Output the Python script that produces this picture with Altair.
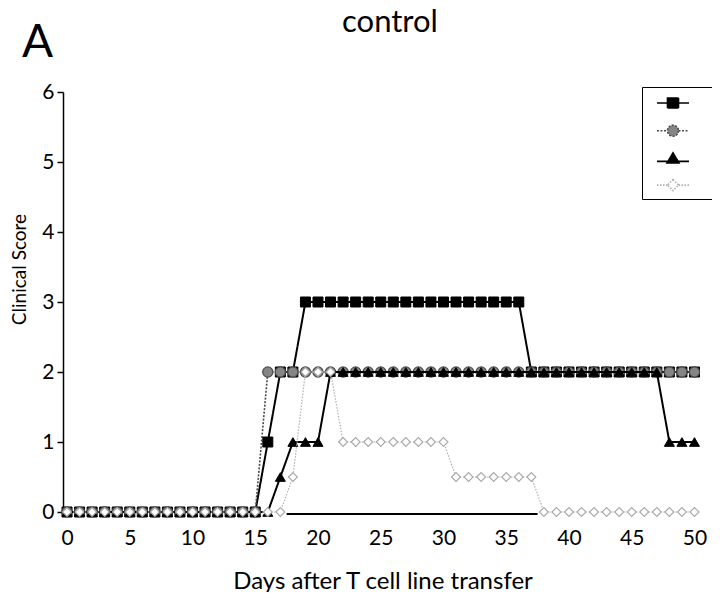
import altair as alt
import pandas as pd

# ---------------- data ----------------
days = list(range(0, 51))
series_names = ["animal 1", "animal 2", "animal 3", "animal 4"]

score_square = [0, 0, 0, 0, 0, 0, 0, 0, 0, 0, 0, 0, 0, 0, 0, 0,
                1, 2, 2,
                3, 3, 3, 3, 3, 3, 3, 3, 3, 3, 3, 3, 3, 3, 3, 3, 3, 3,
                2, 2, 2, 2, 2, 2, 2, 2, 2, 2, 2, 2, 2, 2]
score_circle = [0, 0, 0, 0, 0, 0, 0, 0, 0, 0, 0, 0, 0, 0, 0, 0,
                2, 2, 2, 2, 2, 2, 2, 2, 2, 2, 2, 2, 2, 2, 2, 2, 2, 2,
                2, 2, 2, 2, 2, 2, 2, 2, 2, 2, 2, 2, 2, 2, 2, 2, 2]
score_triangle = [0, 0, 0, 0, 0, 0, 0, 0, 0, 0, 0, 0, 0, 0, 0, 0, 0,
                  0.5, 1, 1, 1,
                  2, 2, 2, 2, 2, 2, 2, 2, 2, 2, 2, 2, 2, 2, 2, 2, 2, 2,
                  2, 2, 2, 2, 2, 2, 2, 2, 2,
                  1, 1, 1]
score_diamond = [0, 0, 0, 0, 0, 0, 0, 0, 0, 0, 0, 0, 0, 0, 0, 0, 0, 0,
                 0.5, 2, 2, 2,
                 1, 1, 1, 1, 1, 1, 1, 1, 1,
                 0.5, 0.5, 0.5, 0.5, 0.5, 0.5, 0.5,
                 0, 0, 0, 0, 0, 0, 0, 0, 0, 0, 0, 0, 0]

# stray baseline segment visible in the original figure
segment_start = [17.5]
segment_end = [37.5]
segment_level = [-0.03]

x_ticks = [0, 5, 10, 15, 20, 25, 30, 35, 40, 45, 50]
y_ticks = [0, 1, 2, 3, 4, 5, 6]

all_scores = [score_square, score_circle, score_triangle, score_diamond]
rows = []
for name, vals in zip(series_names, all_scores):
    for d, v in zip(days, vals):
        rows.append({"day": d, "score": v, "series": name})
df = pd.DataFrame(rows)
seg_df = pd.DataFrame({"day": segment_start, "day2": segment_end, "score": segment_level})

# ---------------- styles ----------------
FONT = "Lato"
styles = {
    "animal 1": dict(line="black", lw=2.0, dash=[1, 0], shape="square", fill="black",
                     stroke="black", size=100, sw=1),
    "animal 2": dict(line="#4a4a4a", lw=1.6, dash=[2, 1.5], shape="circle", fill="#858585",
                     stroke="#4a4a4a", size=105, sw=1.2),
    "animal 3": dict(line="black", lw=2.0, dash=[1, 0], shape="triangle-up", fill="black",
                     stroke="black", size=100, sw=1),
    "animal 4": dict(line="#b0b0b0", lw=1.2, dash=[1.5, 1.5], shape="diamond", fill="white",
                     stroke="#a8a8a8", size=80, sw=1.1),
}

legend_paths = [
    "M-1.6,0H1.6M-0.55,-0.5H0.55V0.5H-0.55Z",
    "M-1.6,0H-0.55M0.55,0H1.6M0.55,0A0.55,0.55 0 1,1 -0.55,0A0.55,0.55 0 1,1 0.55,0Z",
    "M-1.6,0.3H1.6M0,-0.55L0.6,0.45L-0.6,0.45Z",
    "M-1.6,0H-0.55M0.55,0H1.6M0,-0.55L0.55,0L0,0.55L-0.55,0Z",
]

x_scale = alt.Scale(domain=[-0.32, 50.6], nice=False, zero=False)
y_scale = alt.Scale(domain=[0, 6], nice=False, zero=False)

x_axis = alt.Axis(values=x_ticks, title="Days after T cell line transfer", domain=False,
                  ticks=False, grid=False, labelFontSize=21, labelPadding=15,
                  labelColor="black", labelFont=FONT, labelFlush=False,
                  titleFont=FONT, titleFontSize=24, titleFontWeight="normal",
                  titleColor="black", titleY=76, titleBaseline="alphabetic")
y_axis = alt.Axis(values=y_ticks, title="Clinical Score", domainColor="black",
                  domainWidth=1.5, tickColor="black", tickWidth=1.5, tickSize=6,
                  labelFontSize=21, labelPadding=3, labelColor="black", labelFont=FONT,
                  labelFlush=False, grid=False, titleFont=FONT, titleFontSize=19,
                  titleFontWeight="normal", titleColor="black", titleX=-44, titleY=177,
                  titleAlign="center", titleBaseline="middle", titleAngle=270)

base = alt.Chart(df).encode(
    x=alt.X("day:Q", scale=x_scale, axis=x_axis),
    y=alt.Y("score:Q", scale=y_scale, axis=y_axis),
)

layers = []
for name in series_names:
    s = styles[name]
    sub = base.transform_filter(alt.datum.series == name)
    layers.append(sub.mark_line(color=s["line"], strokeWidth=s["lw"], strokeDash=s["dash"]))
    layers.append(sub.mark_point(shape=s["shape"], filled=True, fill=s["fill"],
                                 stroke=s["stroke"], strokeWidth=s["sw"], size=s["size"],
                                 opacity=1))

segment = alt.Chart(seg_df).mark_rule(color="black", strokeWidth=2).encode(
    x=alt.X("day:Q", scale=x_scale, axis=x_axis), x2="day2:Q",
    y=alt.Y("score:Q", scale=y_scale, axis=y_axis))

leg_kwargs = dict(orient="none", legendX=579, legendY=-5, title=None, labelExpr="''",
                  padding=5, symbolOffset=15, labelOffset=25, rowPadding=7.7,
                  symbolSize=400, symbolStrokeWidth=1.6, strokeColor="black",
                  fillColor="white", symbolOpacity=1)
try:
    alt.Chart(df).mark_point().encode(
        shape=alt.Shape("series:N", legend=alt.Legend(strokeWidth=2, **leg_kwargs))).to_dict()
    leg_kwargs["strokeWidth"] = 2
except Exception:
    pass
leg = alt.Legend(**leg_kwargs)

fill_range = [styles[n]["fill"] for n in series_names]
stroke_range = [styles[n]["line"] for n in series_names]
dash_range = [styles[n]["dash"] for n in series_names]

legend_layer = base.transform_filter("false").mark_point(filled=True, opacity=1, size=400).encode(
    shape=alt.Shape("series:N", scale=alt.Scale(domain=series_names, range=legend_paths), legend=leg),
    fill=alt.Fill("series:N", scale=alt.Scale(domain=series_names, range=fill_range), legend=leg),
    stroke=alt.Stroke("series:N", scale=alt.Scale(domain=series_names, range=stroke_range), legend=leg),
    strokeDash=alt.StrokeDash("series:N", scale=alt.Scale(domain=series_names, range=dash_range), legend=leg),
)

panel_label = alt.Chart(pd.DataFrame({"label": ["A"]})).mark_text(
    font=FONT, fontSize=46, align="left", baseline="alphabetic", color="black"
).encode(text="label:N", x=alt.value(-41), y=alt.value(-35))

chart = alt.layer(segment, *layers, legend_layer, panel_label).properties(
    width=639, height=420,
    background="white",
    title=alt.TitleParams("control", font=FONT, fontSize=31, fontWeight="normal",
                          color="black", anchor="middle", dx=7.5, offset=0, dy=19,
                          frame="group"),
    autosize=alt.AutoSizeParams(type="none"),
    padding={"left": 55, "top": 84, "right": 10, "bottom": 80},
).configure_view(stroke=None)

chart.save("out.html", embed_options={"renderer": "svg", "actions": False})
